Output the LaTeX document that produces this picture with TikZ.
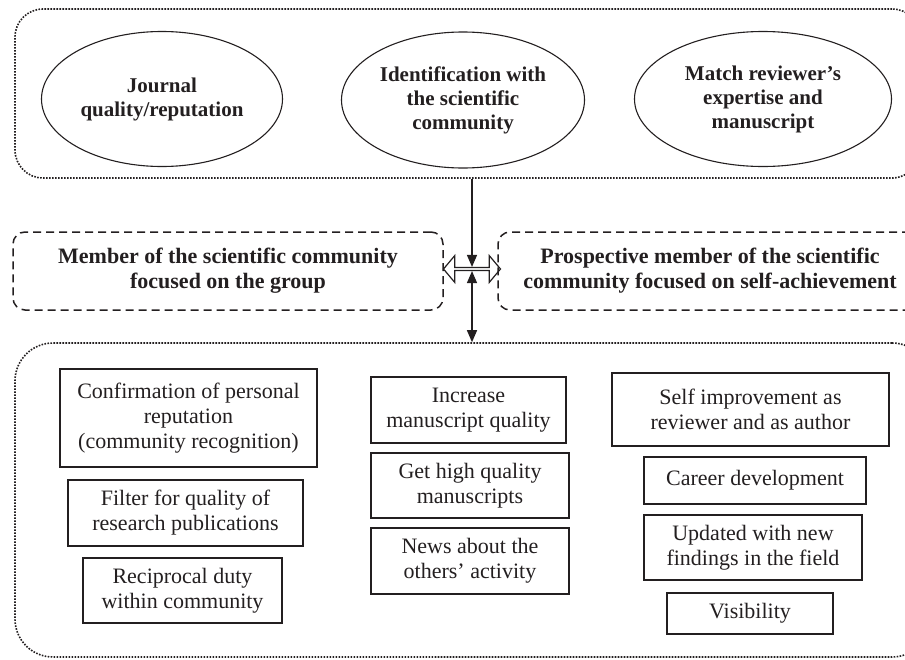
\documentclass[tikz,border=0pt]{standalone}
\usepackage{fontspec}
\setmainfont{Liberation Serif}
\usepackage{xcolor}
\usetikzlibrary{shapes.geometric,shapes.arrows,arrows.meta}
\definecolor{ink}{HTML}{231F20}
\tikzset{
  outerbox/.style={draw=ink,line width=1.6pt,dash pattern=on 1.6pt off 1.4pt,rounded corners=28pt,inner sep=0pt},
  factorbox/.style={ellipse,draw=ink,line width=1.1pt,inner sep=0pt,align=center,text=ink,font={\fontsize{21}{24}\selectfont\bfseries}},
  rolebox/.style={draw=ink,line width=1.5pt,dash pattern=on 8pt off 5pt,rounded corners=12pt,inner sep=0pt,align=center,text=ink,font={\fontsize{22}{25}\selectfont\bfseries}},
  itembox/.style={draw=ink,line width=1.3pt,inner sep=0pt,align=center,text=ink,font={\fontsize{22}{25}\selectfont}},
  linkarrow/.style={double arrow,draw=ink,line width=1.2pt,inner sep=0pt,minimum width=27pt,minimum height=57pt,double arrow head extend=5pt,double arrow tip angle=100},
  stemarrow/.style={draw=ink,line width=1.3pt,-{Triangle[length=12pt,width=10pt]}}
}

\begin{document}
\begin{tikzpicture}[x=1pt,y=-1pt]
  \useasboundingbox (0,0) rectangle (905,659);
  \clip (0,0) rectangle (905,659);
  % top group
  \node[outerbox,minimum width=905pt,minimum height=169pt] (top) at (467.5,93.5) {};
  \node[factorbox,minimum width=241pt,minimum height=135pt] (journal) at (162,99) {Journal\\quality/reputation};
  \node[factorbox,minimum width=243pt,minimum height=136pt] (identity) at (463,100) {Identification with\\the scientific\\community};
  \node[factorbox,minimum width=257pt,minimum height=135pt] (match) at (763,99) {Match reviewer’s\\expertise and\\manuscript};
  % roles
  \node[rolebox,minimum width=430pt,minimum height=78pt] (member) at (228,271) {Member of the scientific community\\focused on the group};
  \node[rolebox,minimum width=424pt,minimum height=78pt] (prospect) at (710,271) {Prospective member of the scientific\\community focused on self-achievement};
  \node[linkarrow] (link) at (472,269) {};
  % bottom group
  \node[outerbox,rounded corners=38pt,minimum width=915pt,minimum height=314pt] (bottom) at (472.5,500) {};
  \node[itembox,minimum width=257pt,minimum height=98pt] (confirm) at (188.5,418) {Confirmation of personal\\reputation\\(community recognition)};
  \node[itembox,minimum width=235pt,minimum height=66pt] (filter) at (185.5,513) {Filter for quality of\\research publications};
  \node[itembox,minimum width=199pt,minimum height=65pt] (duty) at (182.5,590.5) {Reciprocal duty\\within community};
  \node[itembox,minimum width=195pt,minimum height=66pt] (increase) at (468.5,410) {Increase\\manuscript quality};
  \node[itembox,minimum width=198pt,minimum height=65pt] (gethigh) at (470,485.5) {Get high quality\\manuscripts};
  \node[itembox,minimum width=198pt,minimum height=66pt] (news) at (470,561) {News about the\\others’ activity};
  \node[itembox,minimum width=277pt,minimum height=73pt] (improve) at (750.5,409.5) {Self improvement as\\reviewer and as author};
  \node[itembox,minimum width=222pt,minimum height=47pt] (career) at (755,480.5) {Career development};
  \node[itembox,minimum width=218pt,minimum height=65pt] (updated) at (753,547.5) {Updated with new\\findings in the field};
  \node[itembox,minimum width=166pt,minimum height=41pt] (visible) at (750,613.5) {Visibility};
  % connectors
  \draw[stemarrow] (top.south -| link.north) -- (link.north);
  \draw[stemarrow,{Triangle[length=12pt,width=10pt]}-{Triangle[length=12pt,width=10pt]}] (link.south) -- (link.south |- bottom.north);
\end{tikzpicture}
\end{document}
